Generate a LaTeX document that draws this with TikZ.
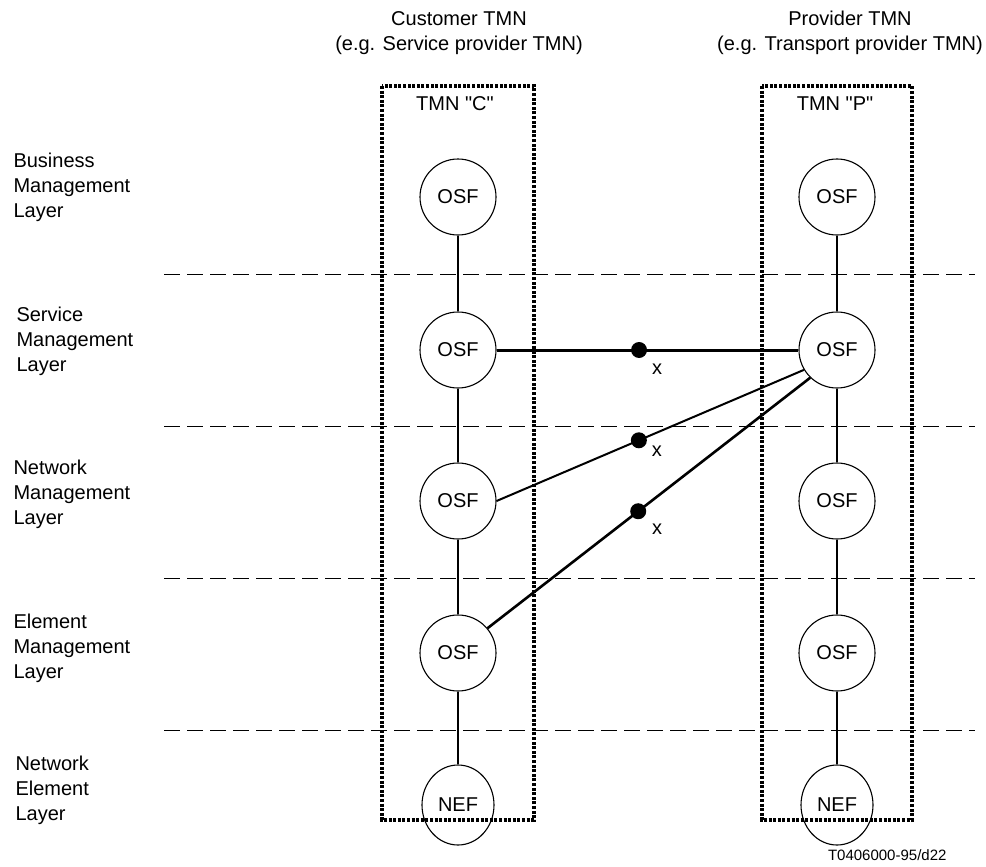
\documentclass[tikz,border=0pt]{standalone}
\usepackage{fontspec}
\setmainfont{Liberation Sans}
\usetikzlibrary{shapes.geometric}
\begin{document}
\begin{tikzpicture}[x=1pt,y=-1pt, font=\fontsize{20}{25}\selectfont,
  osf/.style={circle, draw, line width=1.1pt, minimum size=76pt, inner sep=0pt},
  nef/.style={ellipse, draw, line width=1.1pt, minimum width=72pt, minimum height=80pt, inner sep=0pt},
  tmnbox/.style={draw, line width=3.2pt, dash pattern=on 3pt off 1.6pt},
  layerline/.style={draw, line width=1pt, dash pattern=on 16pt off 7pt},
  link/.style={line width=1.1pt},
  dotnode/.style={circle, fill=black, minimum size=16pt, inner sep=0pt},
  layerlabel/.style={anchor=west, align=left},
  xlabel/.style={inner sep=0pt}]
\useasboundingbox (0,0) rectangle (986,867);

% headers
\node[align=center] (hc) at (459,33) {Customer TMN\\(e.g. Service provider TMN)};
\node[align=center] (hp) at (850,33) {Provider TMN\\(e.g. Transport provider TMN)};

% TMN boxes
\draw[tmnbox] (382,86) rectangle (534,820);
\draw[tmnbox] (762,86) rectangle (912,820);
\node (tc) at (455,104) {TMN \textquotedbl C\textquotedbl};
\node (tp) at (835,104) {TMN \textquotedbl P\textquotedbl};

% layer separators
\foreach \yy in {274,426,578,730} \draw[layerline] (164,\yy) -- (975,\yy);

% layer labels
\node[layerlabel] (l1) at (10,187) {Business\\Management\\Layer};
\node[layerlabel] (l2) at (13,341) {Service\\Management\\Layer};
\node[layerlabel] (l3) at (10,494) {Network\\Management\\Layer};
\node[layerlabel] (l4) at (10,648) {Element\\Management\\Layer};
\node[layerlabel] (l5) at (12,790) {Network\\Element\\Layer};

% customer column
\node[osf] (c1) at (458,197) {OSF};
\node[osf] (c2) at (458,350) {OSF};
\node[osf] (c3) at (458,501) {OSF};
\node[osf] (c4) at (458,653) {OSF};
\node[nef] (c5) at (458,805) {NEF};

% provider column
\node[osf] (p1) at (837,197) {OSF};
\node[osf] (p2) at (837,350) {OSF};
\node[osf] (p3) at (837,501) {OSF};
\node[osf] (p4) at (837,653) {OSF};
\node[nef] (p5) at (837,805) {NEF};

\draw[link] (c1) -- (c2) (c2) -- (c3) (c3) -- (c4) (c4) -- (c5);
\draw[link] (p1) -- (p2) (p2) -- (p3) (p3) -- (p4) (p4) -- (p5);

% inter-TMN links
\draw[line width=3pt] (c2) -- node[dotnode, pos=0.472] (d1) {} (p2);
\draw[line width=2pt] (c3.east) -- node[dotnode, pos=0.463] (d2) {} (p2.211);
\draw[line width=2.6pt] (c4.40) -- node[dotnode, pos=0.467] (d3) {} (p2.226);

\node[xlabel] (x1) at ([xshift=18pt,yshift=-19pt]d1.center) {x};
\node[xlabel] (x2) at ([xshift=18pt,yshift=-11pt]d2.center) {x};
\node[xlabel] (x3) at ([xshift=19pt,yshift=-18pt]d3.center) {x};

% figure tag
\node[anchor=east, font=\fontsize{15}{18}\selectfont] (tag) at (950,855) {T0406000-95/d22};
\end{tikzpicture}
\end{document}
